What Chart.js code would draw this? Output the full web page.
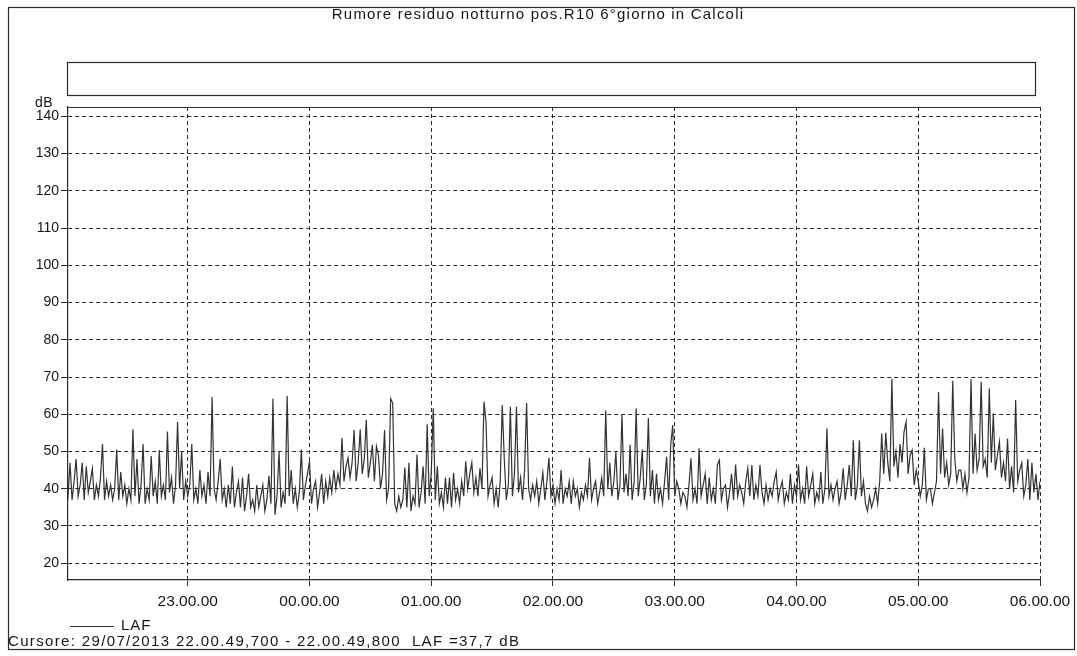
<!DOCTYPE html>
<html>
<head>
<meta charset="utf-8">
<script src="https://cdn.jsdelivr.net/npm/chart.js@4.4.1/dist/chart.umd.min.js"></script>
<style>
  html, body { margin: 0; padding: 0; background: #fff; }
  #wrap { width: 1077px; height: 656px; position: relative; }
</style>
</head>
<body>
<div id="wrap"><canvas id="lafChart"></canvas></div>
<script>
// testi
const titleText = 'Rumore residuo notturno pos.R10 6°giorno in Calcoli';
const cursorText = 'Cursore: 29/07/2013 22.00.49,700 - 22.00.49,800  LAF =37,7 dB';
const seriesName = 'LAF';
const unitLabel = 'dB';

// assi (minuti dalle 22.00)
const hourTicks = [60, 120, 180, 240, 300, 360, 420, 480];
const hourLabels = ['23.00.00', '00.00.00', '01.00.00', '02.00.00', '03.00.00', '04.00.00', '05.00.00', '06.00.00'];
const dbTicks = [20, 30, 40, 50, 60, 70, 80, 90, 100, 110, 120, 130, 140];

// LAF, un valore al minuto, un array per ora
const laf22 = [41, 38, 47, 37, 42, 48, 38, 41, 47, 37, 46, 39, 42, 45.5, 37, 41, 38, 43, 52, 37,
               42, 38, 41, 37, 40, 50.5, 37, 44.5, 38, 41, 36, 40, 37, 56, 38, 48, 36, 41, 52, 36,
               40, 37, 48.8, 38, 42, 36, 50.4, 38, 41, 37, 55.4, 39, 43, 36, 41, 58, 40, 50, 37, 42];
const laf23 = [38, 41, 52, 37, 40, 36, 45, 38, 41, 36, 44.5, 38, 64.6, 40, 37, 42, 48, 37, 40, 35,
               41, 36, 46, 35, 39, 42, 35, 43, 34, 38, 44, 35, 37, 34, 41, 35, 38, 41, 34, 37,
               43.5, 36, 64.2, 33, 38, 50, 35, 39, 36, 65, 38, 45, 36, 40, 35, 39, 50.5, 37, 41, 44];
const laf00 = [47.4, 36, 40, 42, 35, 39, 44, 36, 42, 38, 43, 39, 45, 40, 44, 41, 53.6, 42, 46, 48.3,
               43, 47, 55.8, 42, 47, 56, 44, 48, 58.5, 43, 47, 51.8, 42, 51.4, 49, 40, 44, 55.8, 37, 40,
               64.2, 63, 36, 34, 38, 35, 37, 45.7, 35, 47, 34, 38, 36, 49.2, 35, 39, 46, 36, 57.3, 38];
const laf01 = [44, 61.6, 37, 46, 36, 39, 35, 43, 36, 43, 35, 44.3, 37, 40, 36, 42, 38, 47.4, 40, 44,
               47, 39, 43, 38, 45.5, 40, 63.4, 58, 38, 41, 43, 36, 40, 35, 42, 62.5, 48, 37, 41, 62,
               38, 44, 62, 39, 43, 37, 45, 63, 40, 37, 41, 38, 42, 36, 40, 44.3, 37, 42, 48.3, 38];
const laf02 = [41, 36, 40, 37, 45, 36, 40, 38, 42, 36, 42, 38, 40, 35, 39, 37, 41, 38, 48.3, 37,
               40, 42, 36, 39, 43, 38, 61, 40, 47, 38, 42, 50, 37, 41, 60, 39, 44, 38, 51.8, 37,
               42, 61.6, 38, 43, 50.5, 37, 41, 59, 38, 45, 36, 44, 37, 40, 36, 42, 48.6, 37, 51.7, 57.1];
const laf03 = [38, 42, 40, 36, 39, 38, 35, 41, 48.2, 37, 40, 36, 50.9, 38, 41, 44, 36, 43, 37, 40,
               36, 46.4, 47.7, 37, 40, 41, 35, 39, 44, 37, 46.5, 38, 41, 39, 36, 42, 45.5, 38, 46.4, 37,
               41, 38, 46.4, 39, 36, 41, 37, 40, 38, 42, 44.5, 37, 40, 42, 36, 39, 37, 44, 36, 41];
const laf04 = [38, 46.5, 37, 40, 36, 46, 38, 41, 44, 36, 39, 37, 44.5, 36, 40, 56.2, 38, 41, 37, 40,
               42, 36, 39, 45.5, 37, 41, 46.4, 38, 53, 37, 41, 53, 38, 42, 36, 34, 38, 35, 37, 40,
               36, 42, 54.8, 44, 55, 47, 42, 69.5, 46, 50, 43, 52, 47, 55.3, 58, 44, 49, 50.4, 41, 45];
const laf05 = [42, 38, 41, 51, 37, 40, 40, 36, 39, 42, 66, 44, 56.2, 43, 47, 41, 44, 69, 48, 42,
               45, 45, 40, 44, 39, 43, 69.4, 44, 54.8, 45, 48, 68.7, 46, 48, 43, 67, 47, 60.2, 45, 49,
               52.6, 43, 47, 42, 53.5, 40, 46, 39, 63.8, 42, 45, 47, 38, 41, 48, 37, 47, 39, 44, 37, 42];

const lafValues = [].concat(laf22, laf23, laf00, laf01, laf02, laf03, laf04, laf05);
const lafPoints = lafValues.map((v, i) => ({ x: i, y: v }));

const FONT = "'Liberation Sans', Arial, sans-serif";
const INK = '#151515';

// cornice, riquadro vuoto, titolo, legenda e cursore
const framePlugin = {
    id: 'frame',
    afterDraw(chart) {
        const ctx = chart.ctx;
        const area = chart.chartArea;
        ctx.save();
        ctx.strokeStyle = '#2a2a2a';
        ctx.lineWidth = 1.2;
        ctx.strokeRect(8.5, 7.5, 1066, 642);          // cornice esterna
        ctx.strokeRect(67.5, 62.5, 968, 33);           // riquadro vuoto
        ctx.beginPath();                               // bordo superiore del grafico
        ctx.moveTo(area.left, area.top + 0.5);
        ctx.lineTo(area.right, area.top + 0.5);
        ctx.stroke();

        ctx.fillStyle = INK;
        ctx.textBaseline = 'middle';
        ctx.font = '15px ' + FONT;
        ctx.letterSpacing = '1.2px';
        ctx.textAlign = 'center';
        ctx.fillText(titleText, 538, 15);

        ctx.textAlign = 'left';
        ctx.letterSpacing = '0.5px';
        ctx.font = '14px ' + FONT;
        ctx.fillText(unitLabel, 35, 103);

        // legenda
        ctx.beginPath();
        ctx.strokeStyle = '#333';
        ctx.lineWidth = 1;
        ctx.moveTo(70, 626.5);
        ctx.lineTo(114, 626.5);
        ctx.stroke();
        ctx.font = '15px ' + FONT;
        ctx.letterSpacing = '1px';
        ctx.fillText(seriesName, 121, 626);

        ctx.letterSpacing = '1.35px';
        ctx.fillText(cursorText, 8, 642);
        ctx.restore();
    }
};

const ctx = document.getElementById('lafChart').getContext('2d');
new Chart(ctx, {
    type: 'line',
    data: {
        datasets: [{
            label: seriesName,
            data: lafPoints,
            borderColor: '#333333',
            borderWidth: 1.2,
            pointRadius: 0,
            tension: 0,
            fill: false
        }]
    },
    options: {
        responsive: true,
        maintainAspectRatio: false,
        animation: false,
        events: [],
        layout: { padding: { left: 0, right: 37, top: 107, bottom: 46 } },
        plugins: {
            legend: { display: false },
            title: { display: false },
            tooltip: { enabled: false }
        },
        scales: {
            x: {
                type: 'linear',
                min: 1,
                max: 480,
                afterBuildTicks: scale => { scale.ticks = hourTicks.map(v => ({ value: v })); },
                afterFit: scale => { scale.height = 30; scale.paddingLeft = 0; scale.paddingRight = 0; },
                ticks: {
                    autoSkip: false,
                    maxRotation: 0,
                    padding: 6,
                    color: INK,
                    font: { family: FONT, size: 15.5 },
                    callback: v => hourLabels[hourTicks.indexOf(v)]
                },
                grid: { color: '#2a2a2a', lineWidth: 1, tickLength: 6, tickColor: '#2a2a2a', tickBorderDash: [] },
                border: { display: true, color: '#2a2a2a', width: 1.2, dash: [4, 3] }
            },
            y: {
                min: 15.5,
                max: 142.5,
                afterBuildTicks: scale => { scale.ticks = dbTicks.map(v => ({ value: v })); },
                afterFit: scale => { scale.width = 68; scale.paddingTop = 0; scale.paddingBottom = 0; },
                ticks: {
                    padding: 2,
                    color: INK,
                    font: { family: FONT, size: 14 }
                },
                grid: { color: '#2a2a2a', lineWidth: 1, tickLength: 7, tickColor: '#2a2a2a', tickBorderDash: [] },
                border: { display: true, color: '#2a2a2a', width: 1.2, dash: [4, 3] }
            }
        }
    },
    plugins: [framePlugin]
});
</script>
</body>
</html>
